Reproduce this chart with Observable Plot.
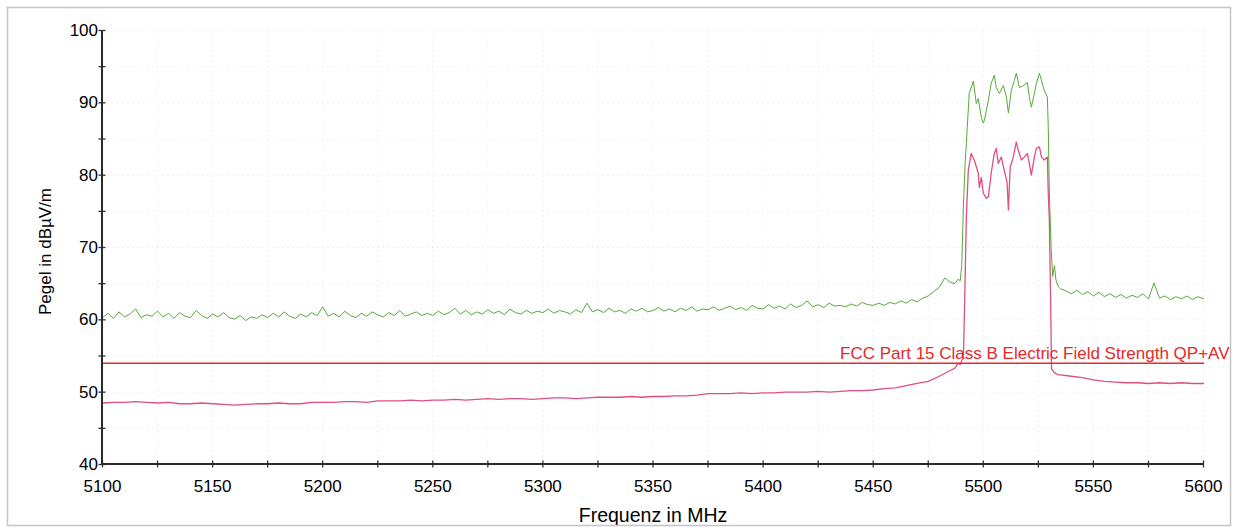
<!DOCTYPE html>
<html><head><meta charset="utf-8">
<script src="https://cdn.jsdelivr.net/npm/d3@7"></script>
<script src="https://cdn.jsdelivr.net/npm/@observablehq/plot@0.6"></script>
<style>body{margin:0;background:#fff;}</style>
</head><body><div id="chart"></div>
<script>
// ---- data ----
const xTitle = "Frequenz in MHz";
const yTitle = "Pegel in dBµV/m";
const limitLabel = "FCC Part 15 Class B Electric Field Strength QP+AV";
const xMajorTicks = [5100, 5150, 5200, 5250, 5300, 5350, 5400, 5450, 5500, 5550, 5600];
const xMinorTicks = [5125, 5175, 5225, 5275, 5325, 5375, 5425, 5475, 5525, 5575];
const yMajorTicks = [40, 50, 60, 70, 80, 90, 100];
const yMinorTicks = [45, 55, 65, 75, 85, 95];

// limit line
const limitFreq = [5100, 5600];
const limitLevel = [54, 54];

// green trace (peak), low part: sweep from 5100 MHz every 2.5 MHz
const greenLowStart = 5100, greenLowStep = 2.5;
const greenLowLevel = [
  60.3, 60.9, 60.2, 61.1, 60.4, 60.8, 61.5, 60.3, 60.7, 60.5,
  61.2, 60.4, 60.9, 60.2, 61.0, 60.5, 60.3, 61.3, 60.6, 60.2,
  60.8, 60.4, 61.0, 60.3, 60.1, 60.6, 59.9, 60.4, 60.2, 60.7,
  60.3, 60.9, 60.4, 61.1, 60.5, 60.2, 60.8, 60.4, 61.0, 60.6,
  61.8, 60.5, 60.9, 60.4, 61.2, 60.6, 60.3, 60.9, 60.5, 61.1,
  60.7, 60.4, 61.0, 60.6, 61.3, 60.5, 60.8, 61.1, 60.6, 60.9,
  60.6, 61.2, 60.7, 61.0, 61.6, 60.8, 61.3, 60.7, 61.1, 60.8,
  61.4, 60.9, 61.2, 60.7, 61.5, 61.0, 60.8, 61.3, 60.9, 61.2,
  61.0, 61.5, 60.9, 61.3, 61.1, 60.8, 61.4, 61.0, 62.3, 61.1,
  61.4, 61.0, 61.6, 61.1, 61.3, 60.9, 61.5, 61.2, 61.6, 61.1,
  61.3, 61.7, 61.2, 61.5, 61.1, 61.6, 61.3, 61.8, 61.2, 61.5,
  61.4, 61.8, 61.3, 61.6, 61.9, 61.4, 61.7, 61.3, 62.0, 61.6,
  61.5, 62.1, 61.6, 61.9, 61.5, 62.2, 61.7, 62.0, 62.6, 61.8,
  62.1, 61.7, 62.3, 61.9, 62.0, 61.8, 62.2, 61.9, 62.4, 62.1,
  62.0, 62.3, 62.0, 62.4, 62.2, 62.6, 62.3, 62.8, 62.5, 63.0,
  63.3, 63.9, 64.5, 65.8, 65.2
];
// green trace around the occupied band
const greenPeakFreq = [5487, 5488.5, 5489.5, 5490.2, 5491, 5491.8, 5492.3, 5493.6, 5495.5, 5496.8,
  5497.7, 5499.1, 5500, 5500.5, 5502.3, 5503.6, 5505, 5505.9, 5507.3, 5509.1,
  5510.5, 5511.4, 5512.7, 5514.1, 5515, 5516.4, 5518.2, 5520, 5520.9, 5521.8,
  5523.2, 5524.1, 5525.5, 5526.4, 5527.7, 5529.1, 5529.5, 5530, 5530.8, 5531.5,
  5532.3, 5533, 5534, 5535];
const greenPeakLevel = [65.0, 65.6, 65.4, 67.5, 76.0, 82.0, 84.4, 91.3, 93.0, 89.9,
  90.6, 88.0, 87.2, 87.6, 90.3, 92.7, 93.8, 92.1, 91.3, 92.4,
  90.8, 88.6, 91.7, 93.1, 94.1, 92.1, 92.4, 92.8, 90.8, 89.4,
  91.3, 92.7, 94.1, 93.1, 91.7, 90.8, 86.6, 77.5, 70.0, 66.0,
  67.5, 65.5, 64.6, 64.3];
// green trace, high part: from 5537.5 MHz every 2.5 MHz
const greenHighStart = 5537.5, greenHighStep = 2.5;
const greenHighLevel = [64.0, 63.6, 64.1, 63.5, 63.9, 63.3, 63.8, 63.2, 63.6, 63.1,
  63.5, 63.0, 63.4, 63.1, 63.6, 62.9, 65.1, 63.0, 63.3, 62.8,
  63.2, 62.9, 63.3, 62.8, 63.2, 62.9];

// pink trace (average), low part: from 5100 MHz every 5 MHz
const pinkLowStart = 5100, pinkLowStep = 5;
const pinkLowLevel = [
  48.5, 48.6, 48.6, 48.7, 48.6, 48.5, 48.6, 48.4, 48.4, 48.5,
  48.4, 48.3, 48.2, 48.3, 48.4, 48.4, 48.5, 48.4, 48.4, 48.6,
  48.6, 48.6, 48.7, 48.7, 48.6, 48.8, 48.8, 48.8, 48.9, 48.8,
  48.9, 48.9, 49.0, 48.9, 49.0, 49.1, 49.0, 49.1, 49.1, 49.0,
  49.1, 49.2, 49.2, 49.1, 49.2, 49.3, 49.3, 49.3, 49.4, 49.3,
  49.4, 49.4, 49.5, 49.5, 49.6, 49.8, 49.8, 49.8, 49.9, 49.8,
  49.9, 49.9, 50.0, 50.0, 50.0, 50.1, 50.0, 50.1, 50.2, 50.2,
  50.3, 50.5, 50.6, 50.9, 51.2, 51.5, 52.2, 53.0
];
const pinkPeakFreq = [5487, 5488.6, 5489.5, 5490.5, 5491, 5491.5, 5492.3, 5493.2, 5494.5, 5495.9,
  5497.7, 5498.2, 5499.1, 5500, 5501.4, 5502.3, 5503.6, 5505, 5505.9, 5506.8,
  5508.2, 5509.5, 5510.8, 5511.4, 5512.2, 5513.6, 5515, 5515.9, 5517.3, 5518.6,
  5520, 5520.9, 5521.8, 5523.2, 5524.1, 5525.5, 5526.4, 5527.7, 5529.1, 5529.5,
  5530, 5530.6, 5531, 5532.3, 5534];
const pinkPeakLevel = [53.3, 54.0, 53.8, 54.6, 55.2, 62.0, 74.2, 80.7, 83.0, 82.1,
  80.3, 78.3, 79.7, 77.5, 76.8, 77.0, 80.3, 83.0, 83.7, 81.6,
  82.5, 80.7, 79.0, 75.2, 81.1, 82.5, 84.6, 83.4, 82.1, 82.5,
  83.0, 81.6, 80.0, 82.5, 83.7, 83.9, 82.5, 82.1, 82.5, 77.5,
  73.8, 62.0, 53.2, 52.7, 52.4];
const pinkHighStart = 5535, pinkHighStep = 5;
const pinkHighLevel = [52.4, 52.2, 52.0, 51.7, 51.5, 51.4, 51.3, 51.3, 51.2, 51.3,
  51.2, 51.3, 51.2, 51.2];

// ---- build tables ----
const sweep = (start, step, levels) => levels.map((v, i) => ({f: start + i * step, v}));
const pairs = (fs, vs) => fs.map((f, i) => ({f, v: vs[i]}));
const green = [
  ...sweep(greenLowStart, greenLowStep, greenLowLevel),
  ...pairs(greenPeakFreq, greenPeakLevel),
  ...sweep(greenHighStart, greenHighStep, greenHighLevel)
];
const pink = [
  ...sweep(pinkLowStart, pinkLowStep, pinkLowLevel),
  ...pairs(pinkPeakFreq, pinkPeakLevel),
  ...sweep(pinkHighStart, pinkHighStep, pinkHighLevel)
];
const limit = pairs(limitFreq, limitLevel);
const xDomain = [5100, 5600];
const yDomain = [40, 100];

const font = "'Liberation Sans', Arial, sans-serif";
const chart = Plot.plot({
  width: 1234, height: 527,
  marginLeft: 102, marginRight: 31, marginTop: 30, marginBottom: 63,
  style: {fontFamily: font, background: "#fff", color: "#000"},
  x: {domain: xDomain},
  y: {domain: yDomain},
  marks: [
    Plot.gridY([...yMajorTicks, ...yMinorTicks], {stroke: "#f0f0f0", strokeOpacity: 1, strokeDasharray: "2,3"}),
    Plot.gridX([...xMajorTicks, ...xMinorTicks], {stroke: "#f3f3f3", strokeOpacity: 1, strokeDasharray: "2,3"}),
    Plot.line(pink, {x: "f", y: "v", stroke: "#e0507f", strokeWidth: 1.3}),
    Plot.line(green, {x: "f", y: "v", stroke: "#5aa83c", strokeWidth: 1}),
    Plot.line(limit, {x: "f", y: "v", stroke: "#e42a2a", strokeWidth: 1.7}),
    Plot.text([limitLabel], {x: 5600, y: 54, text: d => d, textAnchor: "end", dx: 26, dy: -10,
      fill: "#e42a2a", fontSize: 17}),
    Plot.axisY({ticks: yMajorTicks, tickSize: 7, dx: 3.5, tickPadding: 1, fontSize: 17,
      label: null, tickFormat: d => String(d), stroke: "#333", strokeWidth: 1.3}),
    Plot.axisY({ticks: yMinorTicks, tickSize: 7, dx: 3.5, text: null, label: null, stroke: "#333", strokeWidth: 1.3}),
    Plot.axisX({ticks: xMajorTicks, tickSize: 7, dy: -3.5, tickPadding: 12, fontSize: 17,
      label: null, tickFormat: d => String(d), stroke: "#333", strokeWidth: 1.3}),
    Plot.axisX({ticks: xMinorTicks, tickSize: 7, dy: -3.5, text: null, label: null, stroke: "#333", strokeWidth: 1.3}),
    Plot.text([xTitle], {frameAnchor: "bottom", dy: 51, lineAnchor: "middle", textAnchor: "middle",
      text: d => d, fontSize: 19.5, fill: "#000"}),
    Plot.text([yTitle], {frameAnchor: "left", dx: -57, dy: 4, rotate: -90, textAnchor: "middle", lineAnchor: "middle",
      text: d => d, fontSize: 17, fill: "#000"})
  ]
});
document.getElementById("chart").appendChild(chart);
const sx = chart.scale("x"), sy = chart.scale("y");
const svg = d3.select(chart);
// axis lines, placed through the plot's own scales
svg.append("path")
  .attr("d", `M${sx.apply(xDomain[0])},${sy.apply(yDomain[1])}V${sy.apply(yDomain[0])}H${sx.apply(xDomain[1])}`)
  .attr("fill", "none").attr("stroke", "#2a2a2a").attr("stroke-width", 2);
svg.append("rect")
  .attr("x", 7.5).attr("y", 7.5).attr("width", 1223).attr("height", 518)
  .attr("fill", "none").attr("stroke", "#c4c4c4").attr("stroke-width", 1.5);
</script>
</body></html>
